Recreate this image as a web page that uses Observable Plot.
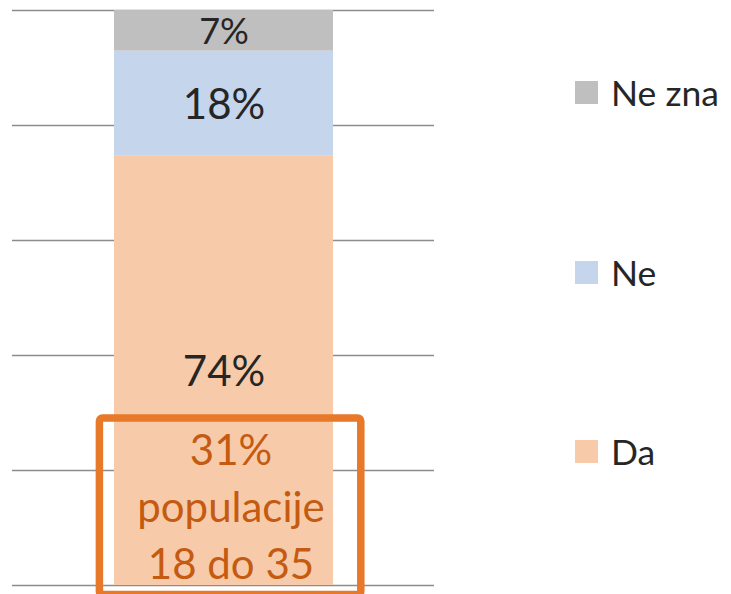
<!DOCTYPE html>
<html>
<head>
<meta charset="utf-8">
<script src="https://cdn.jsdelivr.net/npm/d3@7"></script>
<script src="https://cdn.jsdelivr.net/npm/@observablehq/plot@0.6"></script>
<style>
  html, body { margin: 0; padding: 0; background: #fff; }
  #wrap { position: relative; width: 731px; height: 594px; overflow: hidden; font-family: Lato, "Open Sans", sans-serif; }
  #legend { position: absolute; left: 575px; top: 81px; display: flex; flex-direction: column; gap: 156.5px; }
  .item { display: flex; align-items: center; height: 23px; }
  .sw { width: 23px; height: 23px; margin-right: 13px; }
  .lab { font-size: 35.5px; color: #262626; line-height: 23px; white-space: nowrap; }
</style>
</head>
<body>
<div id="wrap"><div id="chart"></div><div id="legend"></div></div>
<script>
// Data
const group = "Ukupno";
const categories = ["Da", "Ne", "Ne zna"];
const values = [74, 18, 7];
const valueLabels = ["74%", "18%", "7%"];
const colors = ["#F7CBAA", "#C4D5EC", "#BFBFBF"];
const gridTicks = [0, 0.2, 0.4, 0.6, 0.8, 1];
const legendOrder = ["Ne zna", "Ne", "Da"];
const annotationLines = ["31%", "populacije", "18 do 35"];
const annotationRange = [-0.0165, 0.2905];

const data = categories.map((c, i) => ({group, cat: c, value: values[i], label: valueLabels[i]}));
const annot = [{group, y1: annotationRange[0], y2: annotationRange[1], text: annotationLines.join("\n")}];

const chart = Plot.plot({
  width: 731,
  height: 594,
  marginLeft: 12,
  marginRight: 297,
  marginTop: 10,
  marginBottom: 9,
  style: {fontFamily: "Lato, 'Open Sans', sans-serif", background: "white", overflow: "visible"},
  x: {type: "band", domain: [group], padding: 0.316, axis: null},
  y: {domain: [0, 1], axis: null},
  color: {domain: categories, range: colors},
  marks: [
    Plot.gridY(gridTicks, {stroke: "#8c8c8c", strokeOpacity: 1, strokeWidth: 1.3}),
    Plot.barY(data, Plot.stackY({offset: "normalize"}, {x: "group", y: "value", fill: "cat"})),
    Plot.text(data, Plot.stackY({offset: "normalize"}, {
      x: "group", y: "value", text: "label", fill: "#262626",
      fontSize: d => d.cat === "Ne zna" ? 36 : 42, dy: 2
    })),
    Plot.barY(annot, {
      x: "group", y1: "y1", y2: "y2", fill: "none", stroke: "#E8782A",
      strokeWidth: 7.5, insetLeft: -14.6, insetRight: -27.8, rx: 3
    }),
    Plot.text(annot, {
      x: "group", y: d => (d.y1 + d.y2) / 2, text: "text", lineAnchor: "middle",
      dx: 7, dy: -3, fill: "#C55A11", fontSize: 42, lineHeight: 1.36
    })
  ]
});
document.getElementById("chart").appendChild(chart);

const legend = document.getElementById("legend");
for (const c of legendOrder) {
  const item = document.createElement("div");
  item.className = "item";
  const sw = document.createElement("div");
  sw.className = "sw";
  sw.style.background = colors[categories.indexOf(c)];
  const lab = document.createElement("span");
  lab.className = "lab";
  lab.textContent = c;
  item.appendChild(sw);
  item.appendChild(lab);
  legend.appendChild(item);
}
</script>
</body>
</html>
